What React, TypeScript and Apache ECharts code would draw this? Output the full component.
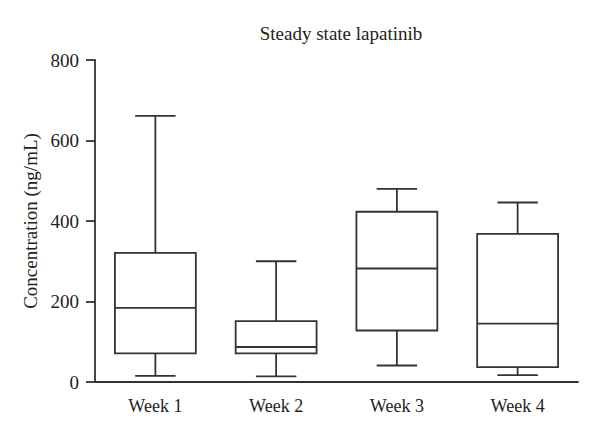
import React, { useEffect, useRef } from "react";
import * as echarts from "echarts";

const categories = ["Week 1", "Week 2", "Week 3", "Week 4"];
const whiskerLow = [15, 14, 41, 17];
const q1 = [71, 71, 128, 37];
const median = [184, 87, 282, 145];
const q3 = [321, 151, 423, 368];
const whiskerHigh = [661, 300, 480, 446];
const yTicks = [0, 200, 400, 600, 800];

const LINE = "#333333";
const FONT = "'Liberation Serif', 'DejaVu Serif', serif";

export default function App() {
  const ref = useRef<HTMLDivElement>(null);
  useEffect(() => {
    document.body.style.margin = "0";
    if (!ref.current) return;
    const chart = echarts.init(ref.current, null, { renderer: "svg" });
    const data = categories.map((_, i) => [i, whiskerLow[i], q1[i], median[i], q3[i], whiskerHigh[i]]);
    const renderItem = (params: any, api: any) => {
      const idx = api.value(0);
      const band = api.size([1, 0])[0];
      const boxW = band * 0.67;
      const capW = boxW * 0.5;
      const pLow = api.coord([idx, api.value(1)]);
      const pQ1 = api.coord([idx, api.value(2)]);
      const pMed = api.coord([idx, api.value(3)]);
      const pQ3 = api.coord([idx, api.value(4)]);
      const pHigh = api.coord([idx, api.value(5)]);
      const cx = pQ1[0];
      const st = { stroke: LINE, lineWidth: 1.8, fill: "none" };
      return {
        type: "group",
        children: [
          { type: "rect", shape: { x: cx - boxW / 2, y: pQ3[1], width: boxW, height: pQ1[1] - pQ3[1] }, style: { ...st, fill: "#fff" } },
          { type: "line", shape: { x1: cx - boxW / 2, y1: pMed[1], x2: cx + boxW / 2, y2: pMed[1] }, style: st },
          { type: "line", shape: { x1: cx, y1: pQ3[1], x2: cx, y2: pHigh[1] }, style: st },
          { type: "line", shape: { x1: cx, y1: pQ1[1], x2: cx, y2: pLow[1] }, style: st },
          { type: "line", shape: { x1: cx - capW / 2, y1: pHigh[1], x2: cx + capW / 2, y2: pHigh[1] }, style: st },
          { type: "line", shape: { x1: cx - capW / 2, y1: pLow[1], x2: cx + capW / 2, y2: pLow[1] }, style: st },
        ],
      };
    };
    chart.setOption({
      animation: false,
      backgroundColor: "#fff",
      title: {
        text: "Steady state lapatinib",
        left: 336,
        textAlign: "center",
        top: 19,
        textStyle: { fontFamily: FONT, fontSize: 19, fontWeight: "normal", color: "#222" },
      },
      grid: { left: 95, right: 22, top: 60, bottom: 58 },
      xAxis: {
        type: "category",
        data: categories,
        boundaryGap: true,
        axisLine: { lineStyle: { color: LINE, width: 1.8 } },
        axisTick: { alignWithLabel: true, length: 8, lineStyle: { color: LINE, width: 1.8 } },
        axisLabel: { fontFamily: FONT, fontSize: 18, color: "#222", margin: 15 },
        splitLine: { show: false },
      },
      yAxis: {
        type: "value",
        min: yTicks[0],
        max: yTicks[yTicks.length - 1],
        interval: 200,
        name: "Concentration (ng/mL)",
        nameLocation: "middle",
        nameGap: 53,
        nameTextStyle: { fontFamily: FONT, fontSize: 19, color: "#222" },
        axisLine: { show: true, lineStyle: { color: LINE, width: 1.8 } },
        axisTick: { show: true, length: 9, lineStyle: { color: LINE, width: 1.8 } },
        axisLabel: { fontFamily: FONT, fontSize: 19, color: "#222", margin: 16 },
        splitLine: { show: false },
      },
      series: [
        {
          type: "custom",
          renderItem,
          data,
          encode: { x: 0, y: [1, 2, 3, 4, 5] },
        },
      ],
    });
    return () => chart.dispose();
  }, []);
  return <div ref={ref} style={{ width: 600, height: 440 }} />;
}
